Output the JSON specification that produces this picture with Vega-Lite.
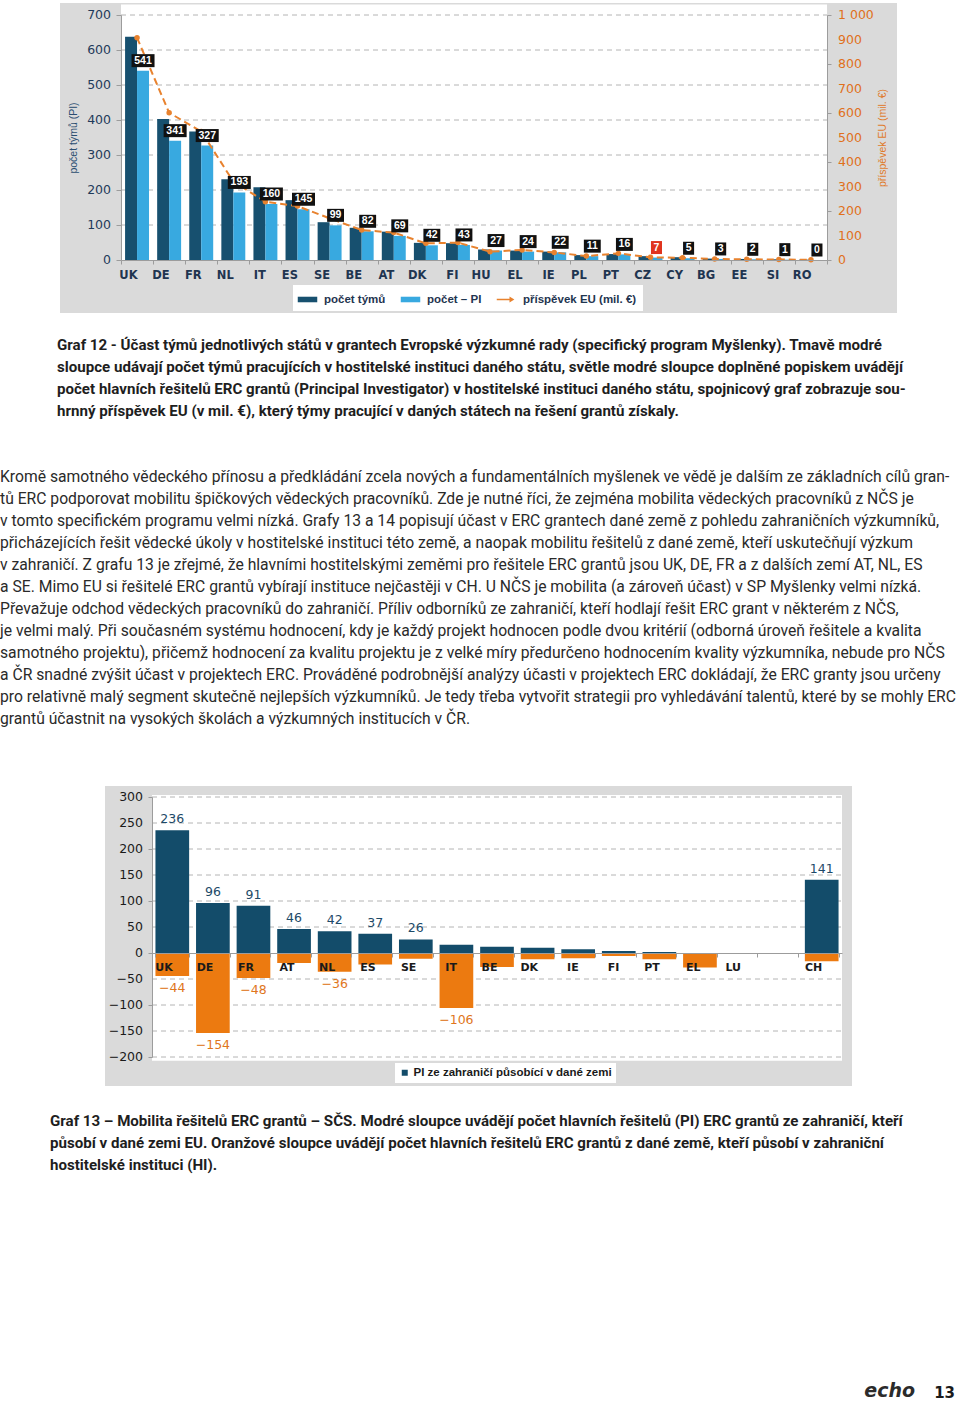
{
  "$schema": "https://vega.github.io/schema/vega-lite/v6.json",
  "background": "white",
  "padding": {"left": 0, "top": 3, "right": 0, "bottom": 0},
  "spacing": 0,
  "resolve": {"scale": {"color": "independent"}, "legend": {"color": "independent"}},
  "config": {
    "view": {"stroke": null},
    "font": "DejaVu Sans",
    "locale": {"number": {"decimal": ",", "thousands": " ", "grouping": [3], "currency": ["", " €"]}},
    "axis": {"grid": false, "domainColor": "#9c9c9c", "tickColor": "#9c9c9c"}
  },
  "datasets": {
    "top": [
      {"c": "UK", "tymy": 638, "pi": 541, "eu": 907},
      {"c": "DE", "tymy": 403, "pi": 341, "eu": 601},
      {"c": "FR", "tymy": 367, "pi": 327, "eu": 525},
      {"c": "NL", "tymy": 231, "pi": 193, "eu": 320},
      {"c": "IT", "tymy": 208, "pi": 160, "eu": 238},
      {"c": "ES", "tymy": 171, "pi": 145, "eu": 220},
      {"c": "SE", "tymy": 108, "pi": 99, "eu": 170},
      {"c": "BE", "tymy": 92, "pi": 82, "eu": 122},
      {"c": "AT", "tymy": 81, "pi": 69, "eu": 112},
      {"c": "DK", "tymy": 49, "pi": 42, "eu": 68},
      {"c": "FI", "tymy": 48, "pi": 43, "eu": 71},
      {"c": "HU", "tymy": 30, "pi": 27, "eu": 34},
      {"c": "EL", "tymy": 27, "pi": 24, "eu": 41},
      {"c": "IE", "tymy": 24, "pi": 22, "eu": 31},
      {"c": "PL", "tymy": 14, "pi": 11, "eu": 16},
      {"c": "PT", "tymy": 17, "pi": 16, "eu": 27},
      {"c": "CZ", "tymy": 11, "pi": 7, "eu": 11},
      {"c": "CY", "tymy": 8, "pi": 5, "eu": 9},
      {"c": "BG", "tymy": 4, "pi": 3, "eu": 4},
      {"c": "EE", "tymy": 3, "pi": 2, "eu": 3},
      {"c": "SI", "tymy": 2, "pi": 1, "eu": 2},
      {"c": "RO", "tymy": 1, "pi": 0, "eu": 1}
    ],
    "bottom": [
      {"c": "UK", "pin": 236, "pout": -44},
      {"c": "DE", "pin": 96, "pout": -154},
      {"c": "FR", "pin": 91, "pout": -48},
      {"c": "AT", "pin": 46, "pout": -19},
      {"c": "NL", "pin": 42, "pout": -36},
      {"c": "ES", "pin": 37, "pout": -22},
      {"c": "SE", "pin": 26, "pout": -11},
      {"c": "IT", "pin": 16, "pout": -106},
      {"c": "BE", "pin": 12, "pout": -27},
      {"c": "DK", "pin": 10, "pout": -12},
      {"c": "IE", "pin": 7, "pout": -10},
      {"c": "FI", "pin": 4, "pout": -6},
      {"c": "PT", "pin": 2, "pout": -12},
      {"c": "EL", "pin": 0, "pout": -28},
      {"c": "LU", "pin": 0, "pout": -2},
      {"c": "CH", "pin": 141, "pout": -16}
    ],
    "gridA": [{"g": 100}, {"g": 200}, {"g": 300}, {"g": 400}, {"g": 500}, {"g": 600}, {"g": 700}],
    "ticksA": [{"t": 0}, {"t": 100}, {"t": 200}, {"t": 300}, {"t": 400}, {"t": 500}, {"t": 600}, {"t": 700}],
    "ticksR": [{"t": 0}, {"t": 100}, {"t": 200}, {"t": 300}, {"t": 400}, {"t": 500}, {"t": 600}, {"t": 700}, {"t": 800}, {"t": 900}, {"t": 1000}],
    "gridB": [{"g": -200}, {"g": -150}, {"g": -100}, {"g": -50}, {"g": 50}, {"g": 100}, {"g": 150}, {"g": 200}, {"g": 250}, {"g": 300}],
    "ticksB": [{"t": -200}, {"t": -150}, {"t": -100}, {"t": -50}, {"t": 0}, {"t": 50}, {"t": 100}, {"t": 150}, {"t": 200}, {"t": 250}, {"t": 300}]
  },
  "vconcat": [
    {
      "spacing": 0,
      "hconcat": [
        {"width": 60, "height": 10, "data": {"values": []}, "mark": "point"},
        {
          "width": 837,
          "height": 310,
          "view": {"fill": "#dadada", "stroke": null},
          "resolve": {"scale": {"y": "independent"}},
          "layer": [
            {
              "layer": [
                {
                  "data": {"values": [{}]},
                  "mark": {"type": "rect", "color": "white"},
                  "encoding": {
                    "x": {"datum": "UK", "type": "nominal", "bandPosition": 0},
                    "x2": {"datum": "RO", "bandPosition": 1},
                    "y": {"datum": 0, "type": "quantitative"},
                    "y2": {"datum": 730}
                  }
                },
                {
                  "data": {"name": "gridA"},
                  "mark": {"type": "rule", "color": "#b4b4b4", "strokeDash": [5, 4], "strokeWidth": 1},
                  "encoding": {
                    "x": {"datum": "UK", "type": "nominal", "bandPosition": 0},
                    "x2": {"datum": "RO", "bandPosition": 1},
                    "y": {"field": "g", "type": "quantitative"}
                  }
                },
                {
                  "data": {"name": "ticksA"},
                  "mark": {"type": "text", "align": "right", "baseline": "middle", "dx": -10, "fontSize": 12.5, "color": "#1f3a5a"},
                  "encoding": {
                    "x": {"datum": "UK", "type": "nominal", "bandPosition": 0},
                    "y": {"field": "t", "type": "quantitative"},
                    "text": {"field": "t", "type": "quantitative", "format": "d"}
                  }
                },
                {
                  "data": {"name": "top"},
                  "transform": [{"fold": ["tymy", "pi"], "as": ["s", "v"]}],
                  "mark": {"type": "bar"},
                  "encoding": {
                    "x": {
                      "field": "c", "type": "nominal", "sort": null,
                      "scale": {"domain": ["UK","DE","FR","NL","IT","ES","SE","BE","AT","DK","FI","HU","EL","IE","PL","PT","CZ","CY","BG","EE","SI","RO"], "range": [61, 767], "paddingInner": 0, "paddingOuter": 0},
                      "axis": {"orient": "bottom", "offset": -53, "title": null, "labelAngle": 0, "labelFont": "DejaVu Sans", "labelFontWeight": "bold", "labelFontSize": 11.5, "labelColor": "#1f3550", "labelPadding": 11, "tickSize": 4, "tickBand": "extent", "zindex": 1}
                    },
                    "xOffset": {"field": "s", "type": "nominal", "scale": {"domain": ["tymy", "pi"], "paddingInner": 0, "paddingOuter": 0.34}},
                    "y": {
                      "field": "v", "type": "quantitative",
                      "scale": {"domain": [0, 700], "range": [257, 12]},
                      "axis": {"orient": "left", "offset": -61, "title": "počet týmů (PI)", "titleFont": "Liberation Sans", "titleFontSize": 10.5, "titleFontWeight": "normal", "titleColor": "#2a4d70", "titlePadding": 37, "values": [0,100,200,300,400,500,600,700], "labels": false, "tickSize": 5, "zindex": 1}
                    },
                    "color": {
                      "field": "s", "type": "nominal",
                      "scale": {"domain": ["tymy", "pi", "eu"], "range": ["#17506f", "#38a9e0", "#e8822e"]},
                      "legend": {
                        "orient": "none", "legendX": 293, "legendY": 282, "columns": 3, "title": null,
                        "fillColor": "white", "padding": 6, "columnPadding": 14, "labelOffset": 8,
                        "labelFont": "Liberation Sans", "labelFontSize": 11.5, "labelFontWeight": "bold", "labelColor": "#1f3550",
                        "symbolSize": 225, "labelLimit": 300,
                        "labelExpr": "datum.value === 'tymy' ? 'počet týmů' : datum.value === 'pi' ? 'počet – PI' : 'příspěvek EU (mil. €)'",
                        "encode": {"symbols": {"update": {"shape": {"signal": "datum.value === 'eu' ? 'M-1.3,-0.1L0.4,-0.1L0.4,-0.4L1.05,0L0.4,0.4L0.4,0.1L-1.3,0.1Z' : 'M-1.3,-0.37L1.3,-0.37L1.3,0.37L-1.3,0.37Z'"}}}}
                      }
                    }
                  }
                }
              ]
            },
            {
              "layer": [
                {
                  "data": {"name": "top"},
                  "mark": {"type": "line", "color": "#e8822e", "strokeWidth": 2, "strokeDash": [7, 4]},
                  "encoding": {
                    "x": {"field": "c", "type": "nominal", "sort": null},
                    "y": {
                      "field": "eu", "type": "quantitative",
                      "scale": {"domain": [0, 1000], "range": [257, 12]},
                      "axis": {"orient": "right", "offset": -70, "title": "příspěvek EU (mil. €)", "titleAngle": 270, "titleFont": "Liberation Sans", "titleFontSize": 10.5, "titleFontWeight": "normal", "titleColor": "#e07a2c", "titlePadding": 56, "values": [0,100,200,300,400,500,600,700,800,900,1000], "labels": false, "tickSize": 4, "zindex": 1}
                    }
                  }
                },
                {
                  "data": {"name": "top"},
                  "mark": {"type": "point", "filled": true, "opacity": 1, "size": 30, "color": "#e8822e"},
                  "encoding": {
                    "x": {"field": "c", "type": "nominal", "sort": null},
                    "y": {"field": "eu", "type": "quantitative"}
                  }
                },
                {
                  "data": {"name": "ticksR"},
                  "mark": {"type": "text", "align": "left", "baseline": "middle", "dx": 11, "fontSize": 12.5, "color": "#e0701a"},
                  "encoding": {
                    "x": {"datum": "RO", "type": "nominal", "bandPosition": 1},
                    "y": {"field": "t", "type": "quantitative"},
                    "text": {"field": "t", "type": "quantitative", "format": ","}
                  }
                }
              ]
            },
            {
              "data": {"name": "top"},
              "transform": [{"fold": ["pi"], "as": ["s", "v"]}],
              "layer": [
                {
                  "mark": {"type": "point", "filled": true, "opacity": 1, "size": 169, "yOffset": -10, "strokeWidth": 0},
                  "encoding": {
                    "x": {"field": "c", "type": "nominal", "sort": null},
                    "xOffset": {"field": "s", "type": "nominal"},
                    "y": {"field": "v", "type": "quantitative", "scale": {"domain": [0, 700], "range": [257, 12]}, "axis": null},
                    "shape": {
                      "condition": [
                        {"test": "datum.v >= 100", "value": "M-1.77,-1L1.77,-1L1.77,1L-1.77,1Z"},
                        {"test": "datum.v >= 10", "value": "M-1.3,-1L1.3,-1L1.3,1L-1.3,1Z"}
                      ],
                      "value": "M-0.85,-1L0.85,-1L0.85,1L-0.85,1Z"
                    },
                    "color": {"condition": {"test": "datum.c === 'CZ'", "value": "#e0341e"}, "value": "#111111"}
                  }
                },
                {
                  "mark": {"type": "text", "color": "white", "font": "Liberation Sans", "fontWeight": "bold", "fontSize": 10.5, "baseline": "middle", "align": "center", "yOffset": -10},
                  "encoding": {
                    "x": {"field": "c", "type": "nominal", "sort": null},
                    "xOffset": {"field": "s", "type": "nominal"},
                    "y": {"field": "v", "type": "quantitative"},
                    "text": {"field": "v", "type": "quantitative", "format": "d"}
                  }
                }
              ]
            }
          ]
        }
      ]
    },
    {
      "width": 960, "height": 21, "data": {"values": []}, "mark": "point",
      "title": {
        "text": [
          "Graf 12 - Účast týmů jednotlivých států v grantech Evropské výzkumné rady (specifický program Myšlenky). Tmavě modré",
          "sloupce udávají počet týmů pracujících v hostitelské instituci daného státu, světle modré sloupce doplněné popiskem uvádějí",
          "počet hlavních řešitelů ERC grantů (Principal Investigator) v hostitelské instituci daného státu, spojnicový graf zobrazuje sou-",
          "hrnný příspěvek EU (v mil. €), který týmy  pracující v daných státech na řešení grantů získaly."
        ],
        "orient": "bottom", "anchor": "start", "dx": 57, "offset": 4, "baseline": "top",
        "font": "Roboto", "fontSize": 15.1, "fontWeight": "bold", "color": "#1e1e1e", "lineHeight": 22
      }
    },
    {
      "width": 960, "height": 46, "data": {"values": []}, "mark": "point",
      "title": {
        "text": [
          "Kromě samotného vědeckého přínosu a předkládání zcela nových a fundamentálních myšlenek ve vědě je dalším ze základních cílů gran-",
          "tů ERC podporovat mobilitu špičkových vědeckých pracovníků. Zde je nutné říci, že zejména mobilita vědeckých pracovníků z NČS je",
          "v tomto specifickém programu velmi nízká. Grafy 13 a 14 popisují účast v ERC grantech dané země z pohledu zahraničních výzkumníků,",
          "přicházejících řešit vědecké úkoly v hostitelské instituci této země, a naopak mobilitu řešitelů z dané země, kteří uskutečňují výzkum",
          "v zahraničí. Z grafu 13 je zřejmé, že hlavními hostitelskými zeměmi pro řešitele ERC grantů jsou UK, DE, FR a z dalších zemí AT, NL, ES",
          "a SE. Mimo EU si řešitelé ERC grantů vybírají instituce nejčastěji v CH. U NČS je mobilita (a zároveň účast) v SP Myšlenky velmi nízká.",
          "Převažuje odchod vědeckých pracovníků do zahraničí. Příliv odborníků ze zahraničí, kteří hodlají řešit ERC grant v některém z NČS,",
          "je velmi malý. Při současném systému hodnocení, kdy je každý projekt hodnocen podle dvou kritérií (odborná úroveň řešitele a kvalita",
          "samotného projektu), přičemž hodnocení za kvalitu projektu je z velké míry předurčeno hodnocením kvality výzkumníka, nebude pro NČS",
          "a ČR snadné zvýšit účast v projektech ERC. Prováděné podrobnější analýzy účasti v projektech ERC dokládají, že ERC granty jsou určeny",
          "pro relativně malý segment skutečně nejlepších výzkumníků. Je tedy třeba vytvořit strategii pro vyhledávání talentů, které by se mohly ERC",
          "grantů účastnit na vysokých školách a výzkumných institucích v ČR."
        ],
        "orient": "bottom", "anchor": "start", "dx": 0, "offset": 4, "baseline": "top",
        "font": "Roboto", "fontSize": 15.7, "fontWeight": "normal", "color": "#2a2a2a", "lineHeight": 22
      }
    },
    {"width": 960, "height": 59, "data": {"values": []}, "mark": "point"},
    {
      "spacing": 0,
      "hconcat": [
        {"width": 105, "height": 10, "data": {"values": []}, "mark": "point"},
        {
          "width": 747,
          "height": 300,
          "view": {"fill": "#dadada", "stroke": null},
          "layer": [
            {
              "data": {"values": [{}]},
              "mark": {"type": "rect", "color": "white"},
              "encoding": {
                "x": {"datum": "UK", "type": "nominal", "bandPosition": -0.1024},
                "x2": {"datum": "CH", "bandPosition": 1.1024},
                "y": {"datum": -207, "type": "quantitative"},
                "y2": {"datum": 304}
              }
            },
            {
              "data": {"name": "gridB"},
              "mark": {"type": "rule", "color": "#b4b4b4", "strokeDash": [5, 4], "strokeWidth": 1},
              "encoding": {
                "x": {"datum": "UK", "type": "nominal", "bandPosition": -0.1024},
                "x2": {"datum": "CH", "bandPosition": 1.1024},
                "y": {"field": "g", "type": "quantitative"}
              }
            },
            {
              "data": {"name": "ticksB"},
              "mark": {"type": "text", "align": "right", "baseline": "middle", "dx": -9, "fontSize": 12.5, "color": "#1a1a1a"},
              "encoding": {
                "x": {"datum": "UK", "type": "nominal", "bandPosition": -0.1024},
                "y": {"field": "t", "type": "quantitative"},
                "text": {"field": "t", "type": "quantitative", "format": "d"}
              }
            },
            {
              "data": {"name": "bottom"},
              "transform": [{"fold": ["pin", "pout"], "as": ["sb", "vb"]}],
              "mark": {"type": "bar"},
              "encoding": {
                "x": {
                  "field": "c", "type": "nominal", "sort": null,
                  "scale": {"domain": ["UK","DE","FR","AT","NL","ES","SE","IT","BE","DK","IE","FI","PT","EL","LU","","CH"], "range": [47, 737], "paddingInner": 0.17, "paddingOuter": 0.085},
                  "axis": {"orient": "bottom", "offset": -133, "title": null, "labelAngle": 0, "labelFont": "DejaVu Sans", "labelFontWeight": "bold", "labelFontSize": 11, "labelColor": "#1a1a1a", "labelPadding": 10, "tickSize": 4, "tickBand": "extent", "zindex": 1}
                },
                "y": {
                  "field": "vb", "type": "quantitative",
                  "scale": {"domain": [-200, 300], "range": [271, 11]},
                  "axis": {"orient": "left", "offset": -47, "title": null, "values": [-200,-150,-100,-50,0,50,100,150,200,250,300], "labels": false, "tickSize": 4, "zindex": 1}
                },
                "color": {
                  "field": "sb", "type": "nominal",
                  "scale": {"domain": ["pin", "pout"], "range": ["#134c6a", "#ec7a10"]},
                  "legend": {
                    "orient": "none", "legendX": 395, "legendY": 277, "title": null, "values": ["pin"],
                    "fillColor": "white", "padding": 4, "labelOffset": 3, "labelLimit": 400,
                    "labelExpr": "'PI ze zahraničí působící v dané zemi'",
                    "labelFont": "Liberation Sans", "labelFontSize": 11.5, "labelFontWeight": "bold", "labelColor": "#1a1a1a",
                    "symbolType": "square", "symbolSize": 36
                  }
                }
              }
            },
            {
              "data": {"name": "bottom"},
              "transform": [{"filter": "datum.pin >= 20"}],
              "mark": {"type": "text", "color": "#1d4a68", "fontSize": 12.5, "baseline": "middle", "dy": -11},
              "encoding": {
                "x": {"field": "c", "type": "nominal", "sort": null},
                "y": {"field": "pin", "type": "quantitative"},
                "text": {"field": "pin", "type": "quantitative", "format": "d"}
              }
            },
            {
              "data": {"name": "bottom"},
              "transform": [{"filter": "datum.pout <= -30"}],
              "mark": {"type": "text", "color": "#e0761c", "fontSize": 12.5, "baseline": "middle", "dy": 12},
              "encoding": {
                "x": {"field": "c", "type": "nominal", "sort": null},
                "y": {"field": "pout", "type": "quantitative"},
                "text": {"field": "pout", "type": "quantitative", "format": "d"}
              }
            }
          ]
        }
      ]
    },
    {
      "width": 960, "height": 24, "data": {"values": []}, "mark": "point",
      "title": {
        "text": [
          "Graf 13 – Mobilita řešitelů ERC grantů – SČS. Modré sloupce uvádějí počet hlavních řešitelů (PI) ERC grantů ze zahraničí, kteří",
          "působí v dané zemi EU. Oranžové sloupce uvádějí počet hlavních řešitelů ERC grantů z dané země, kteří působí v zahraniční",
          "hostitelské instituci (HI)."
        ],
        "orient": "bottom", "anchor": "start", "dx": 50, "offset": 4, "baseline": "top",
        "font": "Roboto", "fontSize": 15.1, "fontWeight": "bold", "color": "#1e1e1e", "lineHeight": 22
      }
    },
    {
      "spacing": 0,
      "hconcat": [
        {
          "width": 915, "height": 208, "data": {"values": []}, "mark": "point",
          "title": {"text": "echo", "orient": "bottom", "anchor": "end", "offset": 0, "baseline": "top", "font": "DejaVu Sans", "fontStyle": "italic", "fontWeight": "bold", "fontSize": 19, "color": "#2b2b2b"}
        },
        {
          "width": 45, "height": 208, "data": {"values": []}, "mark": "point",
          "title": {"text": "13", "orient": "bottom", "anchor": "end", "dx": -5, "offset": 4, "baseline": "top", "font": "DejaVu Sans", "fontWeight": "bold", "fontSize": 15, "color": "#1a1a1a"}
        }
      ]
    }
  ]
}
